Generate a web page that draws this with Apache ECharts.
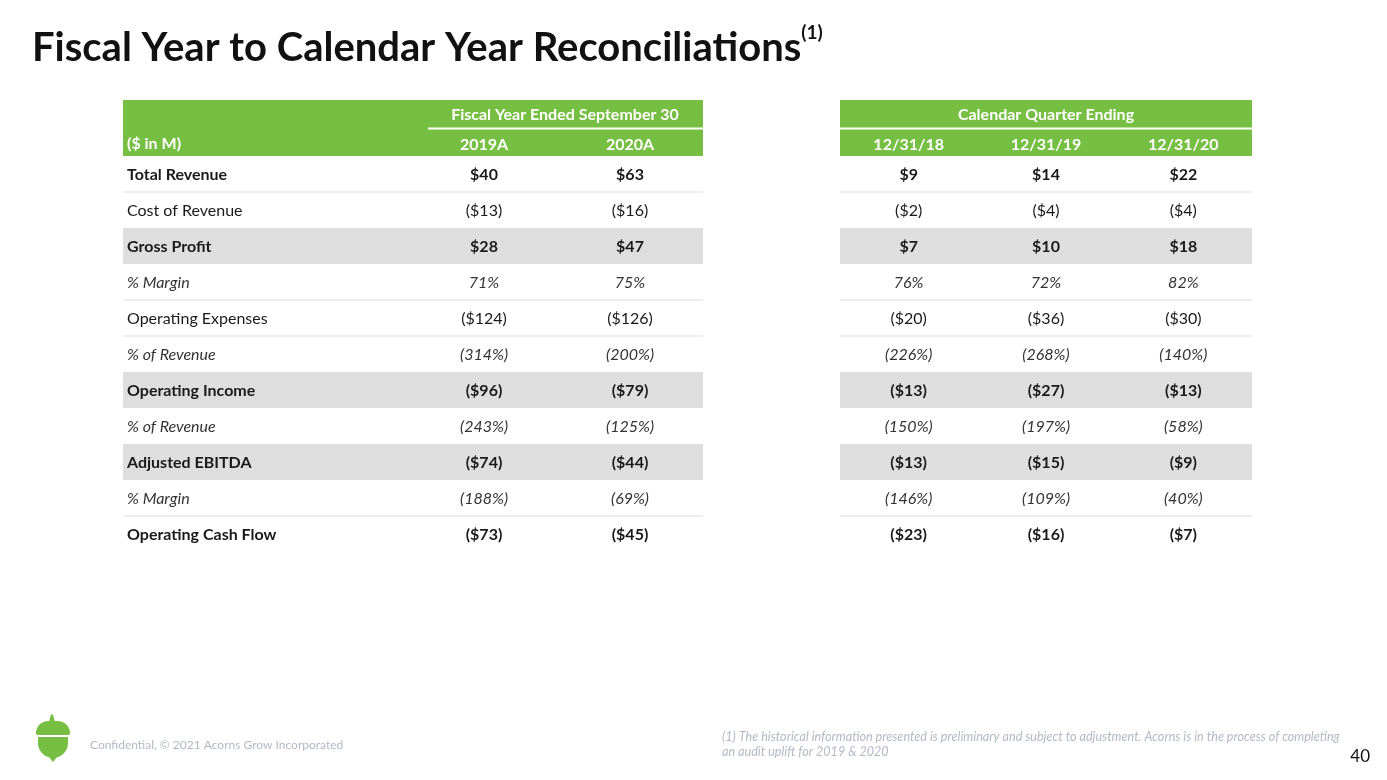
<!DOCTYPE html>
<html>
<head>
<meta charset="utf-8">
<script src="https://cdn.jsdelivr.net/npm/echarts@6/dist/echarts.min.js"></script>
<style>
html,body{margin:0;padding:0;background:#fff;}
#chart{width:1387px;height:780px;}
</style>
</head>
<body>
<div id="chart"></div>
<script>
// ---- data ----
const rowLabels = ['Total Revenue','Cost of Revenue','Gross Profit','% Margin','Operating Expenses','% of Revenue','Operating Income','% of Revenue','Adjusted EBITDA','% Margin','Operating Cash Flow'];
const rowKinds = ['bold','normal','shaded','italic','normal','italic','shaded','italic','shaded','italic','bold'];
const fiscalCols = ['2019A','2020A'];
const quarterCols = ['12/31/18','12/31/19','12/31/20'];
const fy2019 = [40,-13,28,71,-124,-314,-96,-243,-74,-188,-73];
const fy2020 = [63,-16,47,75,-126,-200,-79,-125,-44,-69,-45];
const q2018 = [9,-2,7,76,-20,-226,-13,-150,-13,-146,-23];
const q2019 = [14,-4,10,72,-36,-268,-27,-197,-15,-109,-16];
const q2020 = [22,-4,18,82,-30,-140,-13,-58,-9,-40,-7];
const titleText = 'Fiscal Year to Calendar Year Reconciliations';
const fiscalHeader = 'Fiscal Year Ended September 30';
const quarterHeader = 'Calendar Quarter Ending';
const unitLabel = '($ in M)';
const footerText = 'Confidential, © 2021 Acorns Grow Incorporated';
const footnote1 = '(1) The historical information presented is preliminary and subject to adjustment. Acorns is in the process of completing';
const footnote2 = 'an audit uplift for 2019 & 2020';
const pageNum = '40';

// ---- style ----
const FONT = 'Lato, "Noto Sans", sans-serif';
const GREEN = '#76bf43';
const SHADE = '#dedede';
const LINE = '#e8e8e8';
const TXT = '#1a1a1a';
const FS = 16;

function fmt(v,row){
  const pct = rowKinds[row]==='italic';
  if(pct) return v<0 ? '('+(-v)+'%)' : v+'%';
  return v<0 ? '($'+(-v)+')' : '$'+v;
}
function cellData(cols){
  const out=[];
  cols.forEach((arr,c)=>arr.forEach((v,r)=>out.push([c,r,v])));
  return out;
}
const rowIdx = rowLabels.map((_,i)=>[0,i]);

function bandsRender(extraLeft){
  return function(params, api){
    const row = api.value(1);
    const cs = params.coordSys;
    const p = api.coord([0,row]);
    const h = api.size([0,1])[1];
    const top = p[1]-h/2;
    const x0 = cs.x - extraLeft, w = cs.width + extraLeft;
    const children=[];
    if(rowKinds[row]==='shaded'){
      children.push({type:'rect',shape:{x:x0,y:top,width:w,height:h},style:{fill:SHADE}});
    } else if(row < rowLabels.length-1 && rowKinds[row+1]!=='shaded'){
      children.push({type:'line',shape:{x1:x0,y1:top+h,x2:x0+w,y2:top+h},style:{stroke:LINE,lineWidth:1.5}});
    }
    return {type:'group',children};
  };
}
function cellRender(params, api){
  const c=api.value(0), r=api.value(1), v=api.value(2);
  const p=api.coord([c,r]);
  const k=rowKinds[r];
  const bold = (k==='bold'||k==='shaded');
  return {type:'text',x:p[0],y:p[1]+1,style:{text:fmt(v,r),align:'center',verticalAlign:'middle',
    fontFamily:FONT,fontSize:FS,fontWeight:bold?'bold':'normal',fontStyle:k==='italic'?'italic':'normal',
    fill:k==='italic'?'#333':TXT}};
}

const chart = echarts.init(document.getElementById('chart'),null,{renderer:'canvas'});
const gTop=156, gH=396;
const option = {
  animation:false,
  backgroundColor:'#fff',
  title:{
    text:'{t|'+titleText+'}{s|(1)}',
    left:27, top:18,
    textStyle:{rich:{
      t:{fontFamily:FONT,fontSize:40,fontWeight:'bold',color:'#111',lineHeight:50},
      s:{fontFamily:FONT,fontSize:19,color:'#111',verticalAlign:'top',lineHeight:50,padding:[0,0,12,0]}
    }}
  },
  grid:[
    {left:411, top:gTop, width:292, height:gH},
    {left:840, top:gTop, width:412, height:gH}
  ],
  xAxis:[
    {gridIndex:0,type:'category',data:fiscalCols,position:'top',z:10,
     axisLine:{show:false},axisTick:{show:false},splitLine:{show:false},
     axisLabel:{color:'#fff',fontFamily:FONT,fontSize:FS,fontWeight:'bold',margin:3}},
    {gridIndex:1,type:'category',data:quarterCols,position:'top',z:10,
     axisLine:{show:false},axisTick:{show:false},splitLine:{show:false},
     axisLabel:{color:'#fff',fontFamily:FONT,fontSize:FS,fontWeight:'bold',margin:3}}
  ],
  yAxis:[
    {gridIndex:0,type:'category',data:rowLabels,inverse:true,z:10,
     axisLine:{show:false},axisTick:{show:false},splitLine:{show:false},
     axisLabel:{align:'left',margin:284,
       formatter:(val,i)=>{const k=rowKinds[i];return '{'+(k==='italic'?'i':(k==='normal'?'n':'b'))+'|'+val+'}';},
       rich:{
         b:{fontFamily:FONT,fontSize:FS,fontWeight:'bold',color:TXT,padding:[2,0,0,0]},
         n:{fontFamily:FONT,fontSize:FS,color:TXT,padding:[2,0,0,0]},
         i:{fontFamily:FONT,fontSize:FS,fontStyle:'italic',color:'#333',padding:[2,0,0,0]}
       }}},
    {gridIndex:1,type:'category',data:rowLabels,inverse:true,show:false}
  ],
  series:[
    {type:'custom',xAxisIndex:0,yAxisIndex:0,data:rowIdx,encode:{x:0,y:1},renderItem:bandsRender(288),clip:false,z:1,silent:true},
    {type:'custom',xAxisIndex:1,yAxisIndex:1,data:rowIdx,encode:{x:0,y:1},renderItem:bandsRender(0),clip:false,z:1,silent:true},
    {type:'custom',xAxisIndex:0,yAxisIndex:0,data:cellData([fy2019,fy2020]),encode:{x:0,y:1},renderItem:cellRender,z:3,silent:true},
    {type:'custom',xAxisIndex:1,yAxisIndex:1,data:cellData([q2018,q2019,q2020]),encode:{x:0,y:1},renderItem:cellRender,z:3,silent:true}
  ],
  graphic:[
    // header bands
    {type:'rect',z:0,shape:{x:123,y:100,width:580,height:56},style:{fill:GREEN}},
    {type:'rect',z:0,shape:{x:840,y:100,width:412,height:56},style:{fill:GREEN}},
    {type:'rect',z:1,shape:{x:428,y:127.5,width:275,height:2},style:{fill:'#fff'}},
    {type:'rect',z:1,shape:{x:840,y:127.5,width:412,height:2},style:{fill:'#fff'}},
    {type:'text',z:5,x:565,y:115,style:{text:fiscalHeader,align:'center',verticalAlign:'middle',fill:'#fff',fontFamily:FONT,fontSize:FS,fontWeight:'bold'}},
    {type:'text',z:5,x:1046,y:115,style:{text:quarterHeader,align:'center',verticalAlign:'middle',fill:'#fff',fontFamily:FONT,fontSize:FS,fontWeight:'bold'}},
    {type:'text',z:5,x:127,y:144,style:{text:unitLabel,align:'left',verticalAlign:'middle',fill:'#fff',fontFamily:FONT,fontSize:FS,fontWeight:'bold'}},
    // footer acorn
    {type:'rect',z:5,shape:{x:36,y:721,width:34,height:14,r:[14,14,2,2]},style:{fill:GREEN}},
    {type:'polygon',z:5,shape:{points:[[49,722],[51,714],[53,715],[55,722]]},style:{fill:GREEN}},
    {type:'rect',z:5,shape:{x:38,y:737,width:30,height:21,r:[0,0,15,15]},style:{fill:GREEN}},
    {type:'polygon',z:5,shape:{points:[[49,757],[53,762],[57,757]]},style:{fill:GREEN}},
    {type:'text',z:5,x:90,y:745,style:{text:footerText,align:'left',verticalAlign:'middle',fill:'#b3b8c4',fontFamily:FONT,fontSize:12}},
    {type:'text',z:5,x:722,y:737,style:{text:footnote1,align:'left',verticalAlign:'middle',fill:'#b3b8c4',fontFamily:FONT,fontSize:12.6,fontStyle:'italic'}},
    {type:'text',z:5,x:722,y:752,style:{text:footnote2,align:'left',verticalAlign:'middle',fill:'#b3b8c4',fontFamily:FONT,fontSize:12.6,fontStyle:'italic'}},
    {type:'text',z:5,x:1370,y:757,style:{text:pageNum,align:'right',verticalAlign:'middle',fill:'#111',fontFamily:FONT,fontSize:17}}
  ]
};
chart.setOption(option);
</script>
</body>
</html>
